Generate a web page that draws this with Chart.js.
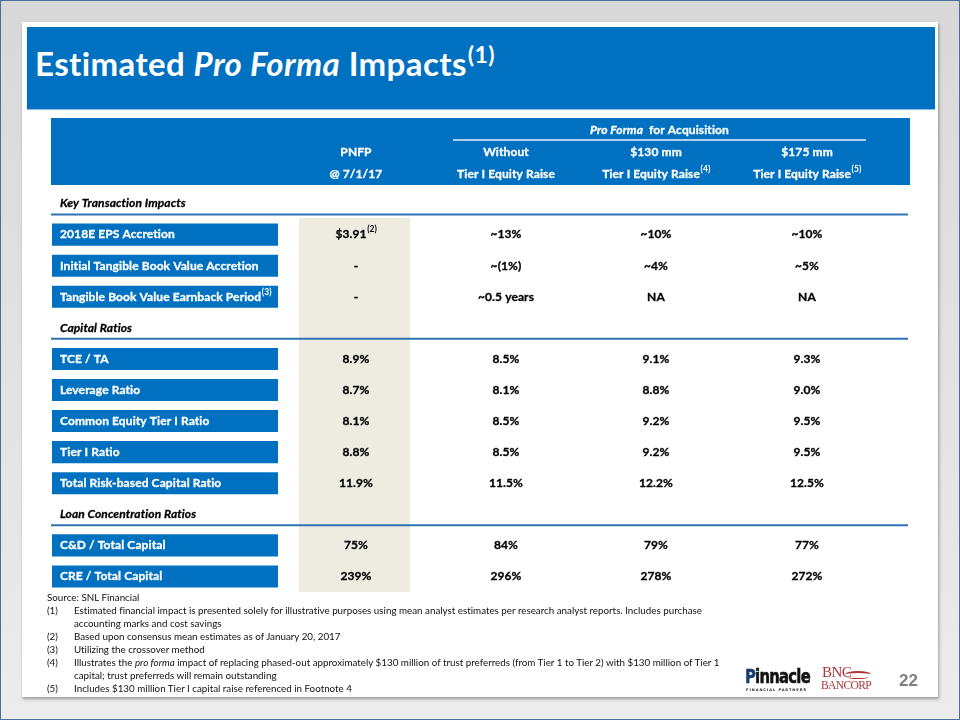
<!DOCTYPE html>
<html>
<head>
<meta charset="utf-8">
<script src="https://cdn.jsdelivr.net/npm/chart.js@4.4.1/dist/chart.umd.min.js"></script>
<style>
  html, body { margin: 0; padding: 0; }
  body {
    width: 960px; height: 720px; position: relative; overflow: hidden;
    background: linear-gradient(#d8d8d8, #ececec);
    font-family: Lato, "Open Sans", sans-serif;
  }
  #frame { position: absolute; left: 0; top: 0; width: 958px; height: 718px; border: 1px solid #4a6f9c; }
  #slide {
    position: absolute; left: 22px; top: 22px; width: 916px; height: 675px;
    background: #fff; box-shadow: 1px 2px 3px rgba(0,0,0,0.35);
  }
  #titleBar {
    position: absolute; left: 27px; top: 27px; width: 908px; height: 82px;
    background: #0070c0; border-bottom: 1px solid #8dbbe4;
  }
  #title {
    position: absolute; left: 35px; top: 43px; color: #fff;
    font: bold 33px Lato, sans-serif; font-variant-ligatures: none;
    white-space: nowrap; letter-spacing: 0.4px;
  }
  #title sup { font-size: 23px; vertical-align: 13px; line-height: 0; margin-left: 1px; }
  #chartBox { position: absolute; left: 40px; top: 112px; width: 880px; height: 484px; }
  .fn { position: absolute; font: 9.8px Lato, sans-serif; font-variant-ligatures: none; color: #111; white-space: nowrap; }
  .fn b { font-weight: normal; position: absolute; left: -27px; }
  #pinnacle {
    position: absolute; left: 745px; top: 664px; font: bold 20px "DejaVu Sans", sans-serif;
    letter-spacing: -1px; color: #111; transform: scaleX(0.74); transform-origin: left;
    -webkit-text-stroke: 0.6px #111;
  }
  #pinnacle span { color: #163e6e; -webkit-text-stroke: 0.6px #163e6e; }
  #pinSub { position: absolute; left: 746px; top: 688px; font: bold 3.6px "DejaVu Sans", sans-serif; letter-spacing: 0.95px; color: #222; }
  #bnc1 { position: absolute; left: 822px; top: 664px; font: 15px "Liberation Serif", serif; color: #b0343a; letter-spacing: -0.5px; }
  #bnc2 { position: absolute; left: 821px; top: 679px; font: 11.5px "Liberation Serif", serif; color: #b0343a; letter-spacing: -0.6px; }
  #swoosh { position: absolute; left: 845px; top: 671px; width: 26px; height: 5px; border-top: 2px solid #b0343a; border-radius: 50% 50% 0 0; }
  #swoosh2 { position: absolute; left: 847px; top: 675px; width: 22px; height: 3px; border-bottom: 1.5px solid #b0343a; border-radius: 0 0 50% 50%; }
  #pageNo { position: absolute; left: 899px; top: 671px; font: bold 17px "Liberation Sans", sans-serif; color: #7f7f7f; }
</style>
</head>
<body>
<div id="frame"></div>
<div id="slide"></div>
<div id="titleBar"></div>
<div id="title">Estimated <i>Pro Forma</i> Impacts<sup>(1)</sup></div>

<div id="chartBox"><canvas id="tableChart" width="880" height="484"></canvas></div>

<div class="fn" style="left:47px; top:591px;">Source: SNL Financial</div>
<div class="fn" style="left:74px; top:604px;"><b>(1)</b>Estimated financial impact is presented solely for illustrative purposes using mean analyst estimates per research analyst reports. Includes purchase</div>
<div class="fn" style="left:74px; top:617px;">accounting marks and cost savings</div>
<div class="fn" style="left:74px; top:630px;"><b>(2)</b>Based upon consensus mean estimates as of January 20, 2017</div>
<div class="fn" style="left:74px; top:643px;"><b>(3)</b>Utilizing the crossover method</div>
<div class="fn" style="left:74px; top:656px;"><b>(4)</b>Illustrates the <i>pro forma</i> impact of replacing phased-out approximately $130 million of trust preferreds (from Tier 1 to Tier 2) with $130 million of Tier 1</div>
<div class="fn" style="left:74px; top:669px;">capital; trust preferreds will remain outstanding</div>
<div class="fn" style="left:74px; top:682px;"><b>(5)</b>Includes $130 million Tier I capital raise referenced in Footnote 4</div>

<div id="pinnacle"><span>P</span>innacle</div>
<div id="pinSub">FINANCIAL PARTNERS</div>
<div id="bnc1">BNC</div>
<div id="swoosh"></div>
<div id="swoosh2"></div>
<div id="bnc2">BANCORP</div>
<div id="pageNo">22</div>

<script>
// Table data //
var rowLabels = [
    'Key Transaction Impacts',
    '2018E EPS Accretion',
    'Initial Tangible Book Value Accretion',
    'Tangible Book Value Earnback Period',
    'Capital Ratios',
    'TCE / TA',
    'Leverage Ratio',
    'Common Equity Tier I Ratio',
    'Tier I Ratio',
    'Total Risk-based Capital Ratio',
    'Loan Concentration Ratios',
    'C&D / Total Capital',
    'CRE / Total Capital'
];
var sectionRows = ['Key Transaction Impacts', 'Capital Ratios', 'Loan Concentration Ratios'];
var labelNotes = { 'Tangible Book Value Earnback Period': '(3)' };

var pnfp         = [null, '$3.91', '-', '-', null, '8.9%', '8.7%', '8.1%', '8.8%', '11.9%', null, '75%', '239%'];
var withoutRaise = [null, '~13%', '~(1%)', '~0.5 years', null, '8.5%', '8.1%', '8.5%', '8.5%', '11.5%', null, '84%', '296%'];
var raise130     = [null, '~10%', '~4%', 'NA', null, '9.1%', '8.8%', '9.2%', '9.2%', '12.2%', null, '79%', '278%'];
var raise175     = [null, '~10%', '~5%', 'NA', null, '9.3%', '9.0%', '9.5%', '9.5%', '12.5%', null, '77%', '272%'];
var valueNotes   = { '$3.91': '(2)' };

var columnHeads = [
    ['PNFP', '@ 7/1/17'],
    ['Without', 'Tier I Equity Raise'],
    ['$130 mm', 'Tier I Equity Raise'],
    ['$175 mm', 'Tier I Equity Raise']
];
var headNotes = ['', '', '(4)', '(5)'];
var spanHead = ['Pro Forma', '  for Acquisition'];

// layout (x in table units, 0 = left edge of the header band) //
var layout = {
    width: 859,
    labelBox: [1, 227],
    pnfpBand: [249, 358],
    colCenters: [305, 455, 605, 756],
    spanLine: [402, 815],
    lineEnd: 857
};

var FONT = 'bold 12px Lato';
var ITALIC = 'italic bold 12px Lato';
var NOTE = 'bold 8.5px Lato';

var columns = [pnfp, withoutRaise, raise130, raise175];

function drawWithNote(ctx, text, note, x, y, align, font, noteFont) {
    ctx.font = font;
    var w = ctx.measureText(text).width;
    ctx.font = noteFont;
    var nw = note ? ctx.measureText(note).width : 0;
    var start = align === 'center' ? x - (w + nw) / 2 : x;
    ctx.textAlign = 'left';
    ctx.textBaseline = 'middle';
    ctx.lineWidth = 0.3;
    ctx.strokeStyle = ctx.fillStyle;
    ctx.font = font;
    ctx.fillText(text, start, y);
    ctx.strokeText(text, start, y);
    if (note) {
        ctx.font = noteFont;
        ctx.fillText(note, start + w + 0.5, y - 5);
    }
}

var tablePlugin = {
    id: 'tableText',
    beforeDatasetsDraw: function (chart) {
        var ctx = chart.ctx, xs = chart.scales.x, top = chart.chartArea.top;
        ctx.save();
        ctx.letterSpacing = '0.1px';
        // header band
        ctx.fillStyle = '#0070c0';
        var x0 = xs.getPixelForValue(0), x1 = xs.getPixelForValue(layout.width);
        ctx.fillRect(x0, top - 70, x1 - x0, 67);

        ctx.fillStyle = '#ffffff';
        // spanning header
        var spanX = xs.getPixelForValue((layout.spanLine[0] + layout.spanLine[1]) / 2);
        ctx.font = ITALIC;
        var w1 = ctx.measureText(spanHead[0]).width;
        ctx.font = FONT;
        var w2 = ctx.measureText(spanHead[1]).width;
        var sx = spanX - (w1 + w2) / 2;
        drawWithNote(ctx, spanHead[0], '', sx, top - 58, 'left', ITALIC, NOTE);
        drawWithNote(ctx, spanHead[1], '', sx + w1, top - 58, 'left', FONT, NOTE);

        ctx.strokeStyle = 'rgba(255,255,255,0.9)';
        ctx.lineWidth = 1.5;
        ctx.beginPath();
        ctx.moveTo(xs.getPixelForValue(layout.spanLine[0]), top - 48);
        ctx.lineTo(xs.getPixelForValue(layout.spanLine[1]), top - 48);
        ctx.stroke();

        columnHeads.forEach(function (h, i) {
            var cx = xs.getPixelForValue(layout.colCenters[i]);
            drawWithNote(ctx, h[0], '', cx, top - 36, 'center', FONT, NOTE);
            drawWithNote(ctx, h[1], headNotes[i], cx, top - 14, 'center', FONT, NOTE);
        });
        ctx.restore();
    },
    afterDatasetsDraw: function (chart) {
        var ctx = chart.ctx, xs = chart.scales.x, ys = chart.scales.y;
        ctx.save();
        ctx.letterSpacing = '0.1px';
        rowLabels.forEach(function (label, i) {
            var y = ys.getPixelForValue(i);
            var lx = xs.getPixelForValue(layout.labelBox[0]) + 8;
            if (sectionRows.indexOf(label) >= 0) {
                ctx.strokeStyle = '#2f72b3';
                ctx.lineWidth = 2;
                ctx.beginPath();
                ctx.moveTo(xs.getPixelForValue(0), y + 11);
                ctx.lineTo(xs.getPixelForValue(layout.lineEnd), y + 11);
                ctx.stroke();
                ctx.fillStyle = '#000000';
                drawWithNote(ctx, label, '', lx, y, 'left', ITALIC, NOTE);
                return;
            }
            ctx.fillStyle = '#ffffff';
            drawWithNote(ctx, label, labelNotes[label], lx, y, 'left', FONT, NOTE);
            ctx.fillStyle = '#000000';
            columns.forEach(function (col, c) {
                var v = col[i];
                if (v === null) return;
                drawWithNote(ctx, v, valueNotes[v], xs.getPixelForValue(layout.colCenters[c]), y, 'center', FONT, NOTE);
            });
        });
        ctx.restore();
    }
};

var ctx = document.getElementById('tableChart').getContext('2d');
var tableChart = new Chart(ctx, {
    type: 'bar',
    data: {
        labels: rowLabels,
        datasets: [
            {
                label: 'PNFP',
                data: rowLabels.map(function (r, i) { return i > 0 ? layout.pnfpBand : null; }),
                backgroundColor: '#eeece1',
                borderWidth: 0,
                barPercentage: 1,
                categoryPercentage: 1,
                inflateAmount: 1,
                grouped: false,
            },
            {
                label: 'Rows',
                data: rowLabels.map(function (r) { return sectionRows.indexOf(r) >= 0 ? null : layout.labelBox; }),
                backgroundColor: '#0070c0',
                borderWidth: 0,
                barPercentage: 0.71,
                categoryPercentage: 1,
                grouped: false,
            }
        ]
    },
    options: {
        indexAxis: 'y',
        responsive: false,
        animation: false,
        events: [],
        layout: {
            padding: { left: 11, right: 10, top: 76, bottom: 4 }
        },
        scales: {
            x: { type: 'linear', min: 0, max: layout.width, display: false },
            y: { type: 'category', display: false }
        },
        plugins: {
            legend: { display: false },
            tooltip: { enabled: false }
        }
    },
    plugins: [tablePlugin]
});
</script>
</body>
</html>
